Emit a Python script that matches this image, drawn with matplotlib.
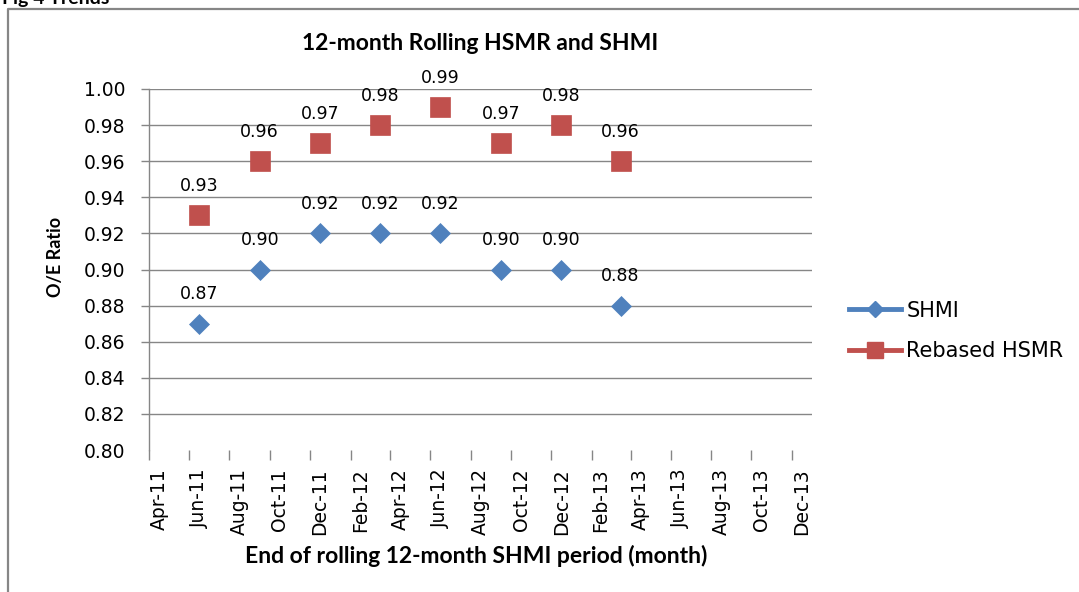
import matplotlib
matplotlib.use("Agg")
import matplotlib.pyplot as plt
from matplotlib.lines import Line2D
import pandas as pd

# data (rolling 12-month period ends)
period_ends = ["2011-06", "2011-09", "2011-12", "2012-03",
               "2012-06", "2012-09", "2012-12", "2013-03"]
shmi = [0.87, 0.90, 0.92, 0.92, 0.92, 0.90, 0.90, 0.88]
hsmr = [0.93, 0.96, 0.97, 0.98, 0.99, 0.97, 0.98, 0.96]
tick_labels = ["Apr-11", "Jun-11", "Aug-11", "Oct-11", "Dec-11", "Feb-12",
               "Apr-12", "Jun-12", "Aug-12", "Oct-12", "Dec-12", "Feb-13",
               "Apr-13", "Jun-13", "Aug-13", "Oct-13", "Dec-13"]
y_ticks = [0.80, 0.82, 0.84, 0.86, 0.88, 0.90, 0.92, 0.94, 0.96, 0.98, 1.00]

BLUE = "#4F81BD"
RED = "#C0504D"
GREY = "#868686"


def mid_month(periods):
    p = pd.PeriodIndex(periods, freq="M")
    return p.start_time + (p.end_time - p.start_time) / 2


W, H = 1079, 592
fig = plt.figure(figsize=(W / 100, H / 100), dpi=100)

# outer frame (left + top only visible) and the cut-off caption
fig.add_artist(Line2D([8 / W, 8 / W, 1.0], [0.0, 1 - 8.5 / H, 1 - 8.5 / H],
                      transform=fig.transFigure, color=GREY, lw=1.6))
fig.text(2 / W, 1 - 4 / H, "Fig 4 Trends", fontsize=14, fontweight="bold",
         family="Lato", va="baseline", ha="left")

ax = fig.add_axes([149 / W, 1 - 450 / H, 663 / W, 361 / H])

x = mid_month(period_ends)
ax.plot(x, shmi, linestyle="none", marker="D", markersize=10.5,
        color=BLUE, markeredgewidth=0.5, label="SHMI", zorder=3)
ax.plot(x, hsmr, linestyle="none", marker="s", markersize=15,
        color=RED, markeredgewidth=0.5, label="Rebased HSMR", zorder=3)

for xi, v in zip(x, shmi):
    ax.annotate(f"{v:.2f}", (xi, v), xytext=(0, 21), textcoords="offset points",
                ha="center", va="center", fontsize=12.5, family="DejaVu Sans")
for xi, v in zip(x, hsmr):
    ax.annotate(f"{v:.2f}", (xi, v), xytext=(0, 21), textcoords="offset points",
                ha="center", va="center", fontsize=12.5, family="DejaVu Sans")

# axes
ax.set_xlim(pd.Timestamp("2011-04-01"), pd.Timestamp("2014-01-01"))
ax.set_ylim(0.80, 1.00)
ax.set_yticks(y_ticks)
ax.set_yticklabels([f"{t:.2f}" for t in y_ticks], fontsize=13.5, family="DejaVu Sans")

tick_months = pd.PeriodIndex(pd.to_datetime(tick_labels, format="%b-%y"), freq="M")
ax.set_xticks(tick_months.start_time)
ax.set_xticklabels([])
ax.set_xticks(mid_month(tick_months), minor=True)
ax.set_xticklabels(tick_labels, minor=True, rotation=90, fontsize=13.5,
                   family="DejaVu Sans")
ax.tick_params(axis="x", which="minor", length=0, pad=13)
ax.tick_params(axis="x", which="major", length=7, color=GREY, width=1, direction="out")
ax.tick_params(axis="y", length=6, color=GREY, width=1, direction="out", pad=11)

ax.grid(axis="y", color=GREY, lw=1.0)
ax.yaxis.get_gridlines()[0].set_visible(False)
ax.yaxis.get_major_ticks()[0].tick1line.set_visible(False)
ax.set_axisbelow(True)

for s in ["top", "right", "bottom"]:
    ax.spines[s].set_visible(False)
ax.spines["left"].set_color(GREY)
ax.spines["left"].set_linewidth(1.0)

fig.text(480 / W, 1 - 44 / H, "12-month Rolling HSMR and SHMI", fontsize=16.5,
         fontweight="bold", family="Lato", ha="center", va="center")
fig.text(476 / W, 1 - 556 / H, "End of rolling 12-month SHMI period (month)",
         fontsize=16.5, fontweight="bold", family="Lato", ha="center", va="center")
fig.text(56 / W, 1 - 257 / H, "O/E Ratio", fontsize=13, fontweight="bold",
         family="Lato", ha="center", va="center", rotation=90)

# legend: line + marker handles
h_shmi = Line2D([], [], color=BLUE, lw=3.5, marker="D", markersize=8.5)
h_hsmr = Line2D([], [], color=RED, lw=3.5, marker="s", markersize=12)
fig.legend([h_shmi, h_hsmr], ["SHMI", "Rebased HSMR"], loc="center left",
           bbox_to_anchor=(849 / W, 1 - 331 / H), frameon=False,
           prop={"family": "DejaVu Sans", "size": 15},
           handlelength=2.5, handletextpad=0.25, labelspacing=1.0,
           borderpad=0, borderaxespad=0)

fig.savefig("out.png", dpi=100)
